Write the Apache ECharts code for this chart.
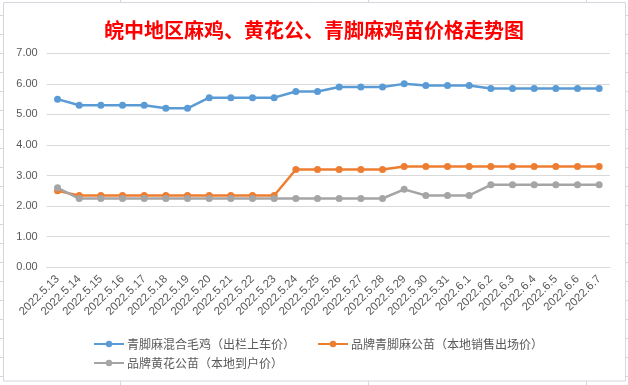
<!DOCTYPE html>
<html>
<head>
<meta charset="utf-8">
<script src="https://cdn.jsdelivr.net/npm/echarts@6/dist/echarts.min.js"></script>
<style>html,body{margin:0;padding:0;background:#fff;}#c{width:628px;height:385px;}</style>
</head>
<body>
<div id="c"></div>
<script>
var titleText = '皖中地区麻鸡、黄花公、青脚麻鸡苗价格走势图';
var categories = ['2022.5.13','2022.5.14','2022.5.15','2022.5.16','2022.5.17','2022.5.18','2022.5.19','2022.5.20','2022.5.21','2022.5.22','2022.5.23','2022.5.24','2022.5.25','2022.5.26','2022.5.27','2022.5.28','2022.5.29','2022.5.30','2022.5.31','2022.6.1','2022.6.2','2022.6.3','2022.6.4','2022.6.5','2022.6.6','2022.6.7'];
var seriesNames = ['青脚麻混合毛鸡（出栏上车价）','品牌青脚麻公苗（本地销售出场价）','品牌黄花公苗（本地到户价）'];
var blueVals = [5.5,5.3,5.3,5.3,5.3,5.2,5.2,5.55,5.55,5.55,5.55,5.75,5.75,5.9,5.9,5.9,6.0,5.95,5.95,5.95,5.85,5.85,5.85,5.85,5.85,5.85];
var orangeVals = [2.5,2.35,2.35,2.35,2.35,2.35,2.35,2.35,2.35,2.35,2.35,3.2,3.2,3.2,3.2,3.2,3.3,3.3,3.3,3.3,3.3,3.3,3.3,3.3,3.3,3.3];
var grayVals = [2.6,2.25,2.25,2.25,2.25,2.25,2.25,2.25,2.25,2.25,2.25,2.25,2.25,2.25,2.25,2.25,2.55,2.35,2.35,2.35,2.7,2.7,2.7,2.7,2.7,2.7];
var yTicks = [0,1,2,3,4,5,6,7];

var colors = ['#5B9BD5','#ED7D31','#A5A5A5'];
var chart = echarts.init(document.getElementById('c'));

// spreadsheet background decorations
var deco = [];
deco.push({type:'rect', shape:{x:3.5,y:2.5,width:622,height:378.5}, style:{fill:'#fff',stroke:'#d6d6de',lineWidth:1}, z:-10});
for (var yy = 15; yy < 385; yy += 19) {
  deco.push({type:'line', shape:{x1:0,y1:yy+0.5,x2:3,y2:yy+0.5}, style:{stroke:'#d6d6de',lineWidth:1}, z:-10});
  deco.push({type:'line', shape:{x1:626,y1:yy+0.5,x2:628,y2:yy+0.5}, style:{stroke:'#d6d6de',lineWidth:1}, z:-10});
}
[120,368,586].forEach(function(xx){
  deco.push({type:'line', shape:{x1:xx+0.5,y1:0,x2:xx+0.5,y2:2}, style:{stroke:'#d6d6de',lineWidth:1}, z:-10});
  deco.push({type:'line', shape:{x1:xx+0.5,y1:381,x2:xx+0.5,y2:385}, style:{stroke:'#d6d6de',lineWidth:1}, z:-10});
});

function mkSeries(i, vals){
  return {
    name: seriesNames[i], type:'line', data: vals,
    symbol:'circle', symbolSize:7, showSymbol:true,
    lineStyle:{width:2.5, color:colors[i]},
    itemStyle:{color:colors[i]},
    emphasis:{disabled:true}, animation:false
  };
}

chart.setOption({
  animation:false,
  graphic: deco,
  title:{
    text:titleText, left:'center', top:15,
    textStyle:{color:'#FF0000', fontSize:20, fontWeight:'bold', fontFamily:'Noto Sans CJK SC'}
  },
  legend:[
    {data:[seriesNames[0], seriesNames[1]], left:88, top:333, itemGap:22, itemWidth:30, itemHeight:8,
     textStyle:{color:'#595959', fontSize:12, fontFamily:'Noto Sans CJK SC', padding:[0,0,0,-2]}},
    {data:[seriesNames[2]], left:88, top:352, itemWidth:30, itemHeight:8,
     textStyle:{color:'#595959', fontSize:12, fontFamily:'Noto Sans CJK SC', padding:[0,0,0,-2]}}
  ],
  grid:{left:46.7, right:18, top:53.3, bottom:117.7, containLabel:false},
  xAxis:{
    type:'category', data:categories, boundaryGap:true,
    axisLine:{show:true, lineStyle:{color:'#d9d9d9', width:1}},
    axisTick:{show:false},
    axisLabel:{rotate:45, interval:0, margin:10, color:'#595959', fontSize:11.5, fontFamily:'Liberation Sans'}
  },
  yAxis:{
    type:'value', min:yTicks[0], max:yTicks[yTicks.length-1], interval:1,
    axisLine:{show:false}, axisTick:{show:false},
    splitLine:{lineStyle:{color:'#d9d9d9', width:1}},
    axisLabel:{formatter:function(v){return v.toFixed(2);}, color:'#595959', fontSize:11, fontFamily:'Liberation Sans', margin:9}
  },
  series:[mkSeries(0, blueVals), mkSeries(1, orangeVals), mkSeries(2, grayVals)]
});
</script>
</body>
</html>
